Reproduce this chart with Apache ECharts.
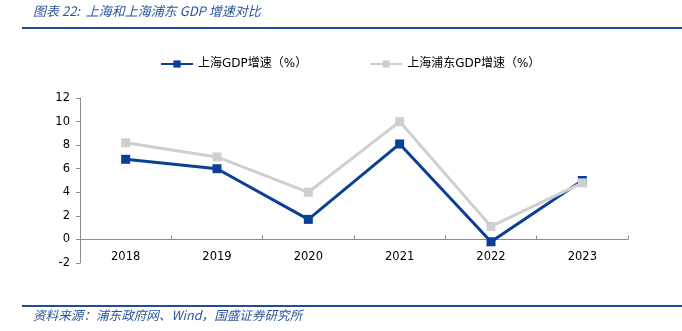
<!DOCTYPE html>
<html>
<head>
<meta charset="utf-8">
<script src="https://cdn.jsdelivr.net/npm/echarts@6/dist/echarts.min.js"></script>
<style>
  html, body { margin: 0; padding: 0; background: #fff; }
  #chart { width: 682px; height: 331px; }
</style>
</head>
<body>
<div id="chart"></div>
<script>
const years = ['2018', '2019', '2020', '2021', '2022', '2023'];
const shanghaiGrowth = [6.8, 6.0, 1.7, 8.1, -0.2, 5.0];
const pudongGrowth = [8.2, 7.0, 4.0, 10.0, 1.1, 4.8];
const seriesNames = ['上海GDP增速（%）', '上海浦东GDP增速（%）'];
const titleText = '图表 22:  上海和上海浦东 GDP 增速对比';
const sourceText = '资料来源：浦东政府网、Wind，国盛证券研究所';

const blue = '#0B3F97';
const grey = '#CFCFCF';
const cjkFont = '"Noto Sans CJK SC", "Noto Sans", sans-serif';
const mixFont = '"DejaVu Sans", "Noto Sans CJK SC", sans-serif';

const chart = echarts.init(document.getElementById('chart'));
chart.setOption({
  animation: false,
  textStyle: { fontFamily: mixFont },
  graphic: [
    { type: 'text', left: 33, top: 5,
      style: { text: titleText, fill: '#2A579A', fontSize: 13, fontStyle: 'italic', fontFamily: cjkFont } },
    { type: 'rect', shape: { x: 22, y: 27, width: 660, height: 2 }, style: { fill: '#1F4E96' } },
    { type: 'rect', shape: { x: 22, y: 305, width: 660, height: 2 }, style: { fill: '#1F4E96' } },
    { type: 'text', left: 33, top: 309,
      style: { text: sourceText, fill: '#2A579A', fontSize: 12.6, fontStyle: 'italic', fontFamily: cjkFont } }
  ],
  legend: {
    left: 155, top: 53,
    itemWidth: 32, itemHeight: 9, itemGap: 62,
    textStyle: { fontSize: 12, color: '#000', fontFamily: mixFont },
    data: seriesNames
  },
  grid: { left: 80, right: 54, top: 98, bottom: 68 },
  xAxis: {
    type: 'category',
    data: years,
    boundaryGap: true,
    axisLine: { onZero: true, lineStyle: { color: '#8C8C8C', width: 1 } },
    axisTick: { show: true, inside: true, length: 4, lineStyle: { color: '#8C8C8C' } },
    axisLabel: { color: '#000', fontSize: 11.5, margin: -12, fontFamily: mixFont }
  },
  yAxis: {
    type: 'value',
    min: -2, max: 12, interval: 2,
    axisLine: { show: true, lineStyle: { color: '#8C8C8C', width: 1 } },
    axisTick: { show: true, length: 4, lineStyle: { color: '#8C8C8C' } },
    splitLine: { show: false },
    axisLabel: { color: '#000', fontSize: 11.5, margin: 10, fontFamily: mixFont }
  },
  series: [
    {
      name: seriesNames[0], type: 'line', data: shanghaiGrowth,
      symbol: 'rect', symbolSize: 9,
      lineStyle: { color: blue, width: 3 },
      itemStyle: { color: blue },
      z: 2
    },
    {
      name: seriesNames[1], type: 'line', data: pudongGrowth,
      symbol: 'rect', symbolSize: 9,
      lineStyle: { color: grey, width: 3 },
      itemStyle: { color: grey },
      z: 3
    }
  ]
});
</script>
</body>
</html>
